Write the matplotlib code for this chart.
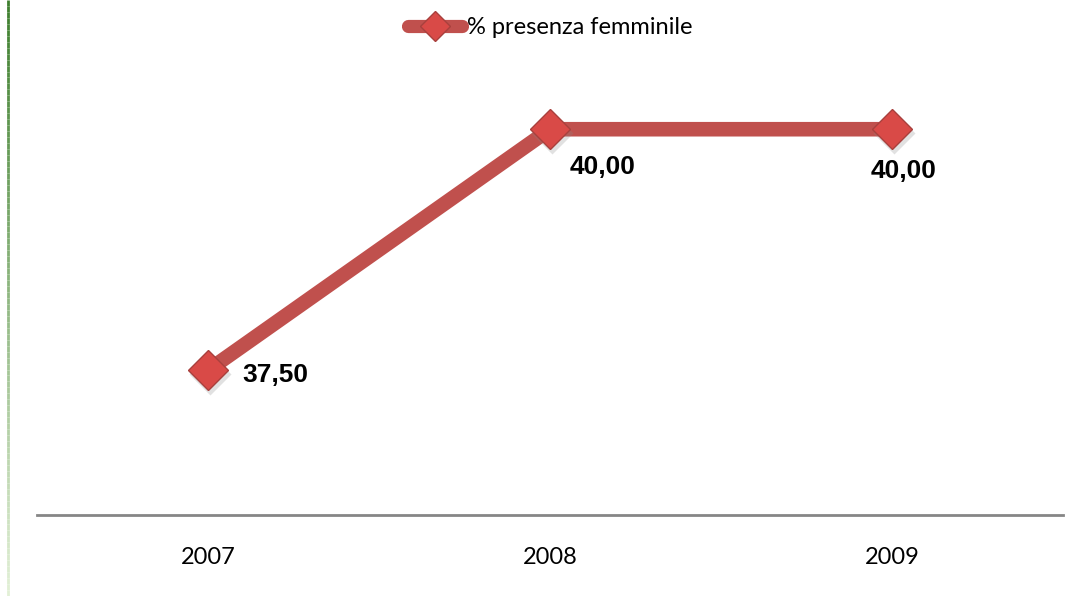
import matplotlib
matplotlib.use("Agg")
import matplotlib.pyplot as plt
import numpy as np
from matplotlib.collections import LineCollection
from matplotlib.lines import Line2D

years = ["2007", "2008", "2009"]
values = [37.50, 40.00, 40.00]
series_name = "% presenza femminile"
label_offsets = [(25, -3), (14, -27), (8, -30)]  # points, per label
label_ha = ["left", "left", "center"]

LINE_C = "#C0504D"
MFC = "#D94A47"
MEC = "#A8403D"

fig = plt.figure(figsize=(10.8, 5.96), dpi=100)
fig.patch.set_facecolor("white")
ax = fig.add_axes([37 / 1080, 1 - 515 / 596, 1026 / 1080, 434 / 596])

x = np.arange(len(years))
ax.plot(x, values, color=LINE_C, lw=10.5, solid_capstyle="butt", zorder=2)
# soft shadow under markers
ax.plot(x, values, linestyle="none", marker="D", ms=21, mfc="#888888",
        mec="none", alpha=0.25, zorder=2.5,
        transform=ax.transData + matplotlib.transforms.ScaledTranslation(1.5 / 72, -2.5 / 72, fig.dpi_scale_trans))
ax.plot(x, values, linestyle="none", marker="D", ms=20.5, mfc=MFC,
        mec=MEC, mew=1.0, zorder=3, label=series_name)

for xi, v, off, ha in zip(x, values, label_offsets, label_ha):
    ax.annotate(f"{v:.2f}".replace(".", ","), (xi, v), xytext=off,
                textcoords="offset points", ha=ha, va="center",
                fontsize=19, fontweight="bold", family="Liberation Sans",
                color="black")

ax.set_xlim(-0.5, 2.5)
ax.set_ylim(36, 40.5)
ax.set_xticks(x)
ax.set_xticklabels(years, family="Lato", fontsize=17)
ax.tick_params(axis="x", length=0, pad=23)
ax.set_yticks([])
for s in ["top", "right", "left"]:
    ax.spines[s].set_visible(False)
ax.spines["bottom"].set_color("#868686")
ax.spines["bottom"].set_linewidth(2)

# legend handle: line with diamond
h = Line2D([], [], color=LINE_C, lw=9.5, marker="D", ms=15, mfc=MFC,
           mec=MEC, solid_capstyle="round")
fig.legend([h], [series_name], loc="center", bbox_to_anchor=(550 / 1080, 1 - 28 / 596),
           frameon=False, prop={"family": "Lato", "size": 17},
           handlelength=2.3, handletextpad=0.2, borderpad=0)

# green gradient line at left edge
n = 100
ys = np.linspace(1, 0, n + 1)
segs = [[(8 / 1080, ys[i]), (8 / 1080, ys[i + 1])] for i in range(n)]
c0 = np.array([0x3E, 0x7F, 0x2E]) / 255
c1 = np.array([0xE2, 0xF0, 0xD6]) / 255
cols = [tuple(c0 + (c1 - c0) * (i / (n - 1))) for i in range(n)]
lc = LineCollection(segs, colors=cols, linewidths=2, transform=fig.transFigure)
fig.add_artist(lc)

fig.savefig("out.png", dpi=100, facecolor="white")
